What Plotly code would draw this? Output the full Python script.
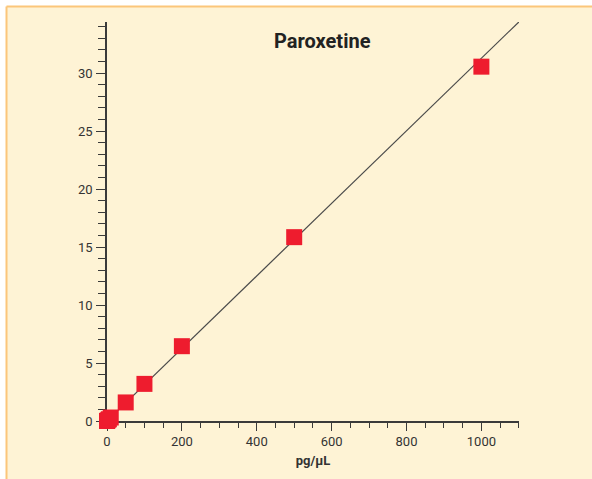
import plotly.graph_objects as go

# Data
conc = [0, 2, 5, 10, 50, 100, 200, 500, 1000]          # pg/uL
response = [0.0, 0.06, 0.15, 0.3, 1.6, 3.2, 6.45, 15.85, 30.55]
fit_x = [0, 1100]
fit_y = [0, 34.4]

title_text = "Paroxetine"
x_title = "pg/\u03bcL"

FONT = "Roboto, Liberation Sans, sans-serif"
CREAM = "#FEF3D5"
ORANGE = "#FBC67A"
AXIS = "#3a3a3a"

fig = go.Figure()
fig.add_trace(go.Scatter(x=fit_x, y=fit_y, mode="lines",
                         line=dict(color="#4a4a4a", width=1.2),
                         hoverinfo="skip", showlegend=False, cliponaxis=False))
fig.add_trace(go.Scatter(x=conc, y=response, mode="markers",
                         marker=dict(symbol="square", size=16, color="#EE1C2E",
                                     line=dict(width=0)),
                         showlegend=False, cliponaxis=False))

fig.update_layout(
    width=592, height=479,
    margin=dict(l=107, r=73, t=22, b=58),
    paper_bgcolor="white",
    plot_bgcolor="rgba(0,0,0,0)",
    font=dict(family=FONT, size=13, color="#333333"),
    shapes=[
        dict(type="rect", xref="paper", yref="paper",
             xsizemode="pixel", ysizemode="pixel", xanchor=0, yanchor=0,
             x0=-100.5, x1=500, y0=-70, y1=414.5,
             fillcolor=CREAM, line=dict(width=0), layer="below"),
        dict(type="line", xref="paper", yref="paper",
             xsizemode="pixel", ysizemode="pixel", xanchor=0, yanchor=0,
             x0=-100.5, x1=500, y0=414.5, y1=414.5,
             line=dict(color=ORANGE, width=2), layer="below"),
        dict(type="line", xref="paper", yref="paper",
             xsizemode="pixel", ysizemode="pixel", xanchor=0, yanchor=0,
             x0=-100.5, x1=-100.5, y0=-70, y1=414.5,
             line=dict(color=ORANGE, width=2), layer="below"),
    ],
    annotations=[
        dict(text="<b>" + title_text + "</b>", xref="x", yref="paper",
             x=575, y=1, yanchor="middle", yshift=-19, xanchor="center",
             showarrow=False, font=dict(family=FONT, size=20, color="#222222")),
    ],
)

fig.update_xaxes(
    range=[0, 1100.5], showgrid=False, zeroline=False,
    showline=True, linecolor=AXIS, linewidth=1.5,
    ticks="outside", ticklen=8, tickwidth=1.2, tickcolor=AXIS,
    tick0=0, dtick=200,
    minor=dict(ticks="outside", ticklen=5, tickwidth=1.2, tickcolor=AXIS, dtick=50, tick0=0, showgrid=False),
    tickfont=dict(size=13, color="#333333"),
    title=dict(text="<b>" + x_title + "</b>", font=dict(size=13, color="#333333"), standoff=8),
    layer="below traces",
)
fig.update_yaxes(
    range=[0, 34.4], showgrid=False, zeroline=False,
    showline=True, linecolor=AXIS, linewidth=1.5,
    ticks="outside", ticklen=9, tickwidth=1.2, tickcolor=AXIS,
    tick0=0, dtick=5,
    minor=dict(ticks="outside", ticklen=7, tickwidth=1.2, tickcolor=AXIS, dtick=1, tick0=0, showgrid=False),
    tickfont=dict(size=13, color="#333333"),
    ticklabelstandoff=1,
    layer="below traces",
)

fig.write_html("out.html")
